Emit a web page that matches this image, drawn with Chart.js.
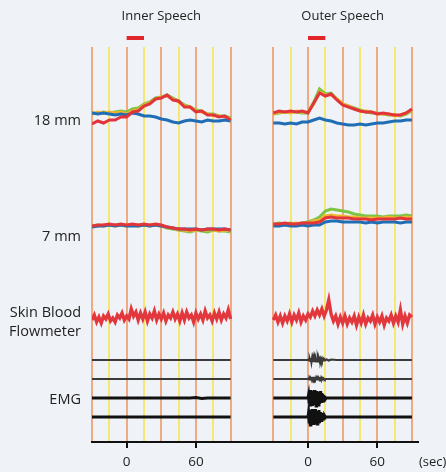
<!DOCTYPE html>
<html>
<head>
<meta charset="utf-8">
<script src="https://cdn.jsdelivr.net/npm/chart.js@4.4.1/dist/chart.umd.min.js"></script>
<style>
  html, body { margin: 0; padding: 0; background: #eff2f6; }
  #wrap { width: 446px; height: 472px; position: relative; }
</style>
</head>
<body>
<div id="wrap"><canvas id="speechChart"></canvas></div>
<script>
// time bases (sec)
const T5 = [-30,-25,-20,-15,-10,-5,0,5,10,15,20,25,30,35,40,45,50,55,60,65,70,75,80,85,90];
const T2 = [-30,-28,-26,-24,-22,-20,-18,-16,-14,-12,-10,-8,-6,-4,-2,0,2,4,6,8,10,12,14,16,18,20,
  22,24,26,28,30,32,34,36,38,40,42,44,46,48,50,52,54,56,58,60,62,64,66,68,70,72,74,76,78,80,82,84,86,88,90];
const TE = [-30,-15,-2,
  0,0.5,1,1.5,2,2.5,3,3.5,4,4.5,
  5,5.5,6,6.5,7,7.5,8,8.5,9,9.5,
  10,10.5,11,11.5,12,12.5,13,13.5,14,14.5,
  15,
  16,18,20,25,30,45,60,75,90];
const GRID_T = [-30,-15,0,15,30,45,60,75,90];
const TICK_LABELS = [0, 60];
const STIM = [0, 15];
const PANELS = ["Inner Speech", "Outer Speech"];
const ROW_LABELS = ["18 mm", "7 mm", ["Skin Blood", "Flowmeter"], "EMG"];

// 18 mm channel (a.u.)
const inner18Red    = [-7,-4,-6,-3,-3,0,0,5,6,11,13,18,19,22,17,16,10,10,5,6,2,2,0,1,-3];
const inner18Green  = [4,4,5,4,5,6,5,8,9,13,15,19,20,22,19,16,12,10,7,6,3,3,1,1,-1];
const inner18Yellow = [3,5,4,5,4,5,3,6,7,12,14,18,20,21,18,15,11,10,6,5,3,2,1,0,-2];
const inner18Blue   = [4,3,4,3,2,3,2,4,3,1,1,0,-2,-3,-5,-6,-4,-3,-4,-5,-3,-4,-4,-3,-4];
const outer18Red    = [4,6,5,6,5,6,4,14,24,21,23,17,12,10,8,6,5,5,3,4,3,2,2,4,8];
const outer18Green  = [3,4,5,5,5,4,4,15,28,23,24,18,13,11,9,7,5,4,4,3,2,2,1,3,6];
const outer18Yellow = [3,5,5,4,6,5,5,13,25,22,22,18,13,11,8,6,6,5,3,3,3,1,2,4,7];
const outer18Blue   = [-6,-6,-7,-6,-7,-5,-5,-3,-1,-3,-4,-6,-7,-8,-8,-7,-8,-7,-6,-6,-5,-4,-4,-3,-3];

// 7 mm channel (a.u.)
const inner7Red    = [0,1,1,2,1,2,1,2,1,2,1,2,1,-1,-2,-3,-3,-4,-3,-4,-3,-3,-4,-3,-4];
const inner7Green  = [0,1,0,1,1,1,0,1,1,1,0,1,0,-2,-3,-4,-5,-6,-4,-5,-6,-4,-5,-5,-6];
const inner7Yellow = [-1,0,1,1,0,1,1,1,0,1,1,1,0,-1,-2,-4,-4,-5,-4,-4,-4,-4,-5,-4,-5];
const inner7Blue   = [-1,0,0,1,0,1,0,0,0,1,0,1,0,-1,-2,-3,-3,-3,-3,-4,-3,-3,-3,-3,-4];
const outer7Red    = [2,2,3,2,2,3,3,3,4,8,9,8,8,8,7,7,7,6,7,7,7,7,8,7,7];
const outer7Green  = [2,3,2,3,2,3,4,6,9,15,17,16,15,14,12,11,10,10,10,9,10,10,10,11,10];
const outer7Yellow = [1,2,2,2,3,2,3,5,6,10,11,10,10,9,9,8,8,8,8,8,9,8,8,9,8];
const outer7Blue   = [0,0,1,0,0,1,0,1,1,4,5,5,4,4,4,4,3,4,3,4,4,4,3,4,4];

// skin blood flow (a.u.)
const innerBlood = [
  -2,3,-4,1,-5,2,-1,4,-3,0,
  -4,3,0,5,-2,2,-1,9,2,6,
  -2,5,-1,6,-3,4,0,7,-2,4,
  -1,5,-3,3,0,6,-1,4,-3,5,
  -2,6,0,3,-4,5,-1,4,-2,7,
  0,3,-3,5,-1,6,-2,4,0,8,
  -1];
const outerBlood = [
  -2,3,-4,2,-5,2,-3,4,-4,3,
  -2,5,-4,2,-2,4,1,7,2,8,
  3,9,2,8,18,4,-3,2,-6,1,
  -5,2,-6,0,-4,2,-7,1,-5,3,
  -6,0,-3,3,-6,1,-4,2,-7,0,
  -3,3,-5,2,-4,8,-6,2,-5,3,
  1];

// EMG (a.u.)
const innerEmg = [
  [0,0,0,0,0,0,0,0,0,0,0,0,0,0,0,0,0,0,0,0,0,0,0,0,0],
  [0,0,0,0,0,0,0,0,0,0,0,0,0,0,0,0,0,0,0,0,0,0,0,0,0],
  [0,0,0,0,0,0,0,0,0,0,0,0,0,0,0,0,0,0,0.5,-0.5,0,0,0,0,0],
  [0,0,0,0,0,0,0,0,0,0,0,0,0,0,0,0,0,0,0,0,0,0,0,0,0]
];
const outerEmg = [
  [0,0,0,
   0,0.5,-0.5,1,-1,2,-2,1.5,-2,2,
   -1.5,2,-2,1.5,-1.5,2,-1.5,1.5,-1,1,
   -1,1,-1,1,-0.5,0.5,-0.5,0.5,-0.5,0.5,
   0,
   0.5,-0.5,0.5,0,0,0,0,0,0],
  [0,0,0,
   0,0.5,-0.5,0.5,-0.5,0.5,-0.5,0.5,-0.5,0.5,
   -0.5,0.5,-0.5,0.5,-0.5,0.5,-0.5,0.5,-0.5,0.5,
   -0.5,0.5,-0.5,0,0.5,-0.5,0,0.5,0,-0.5,
   0,
   0,0,0,0,0,0,0,0,0],
  [0,0,0,
   0,3,-4,6,-7,8,-6,7,-8,7,
   -6,8,-7,6,-8,7,-5,6,-7,5,
   -6,7,-4,5,-5,4,-3,3,-2,2,
   -1,
   0,0,0,0,0,0,0,0,0],
  [0,0,0,
   0,4,-5,7,-8,6,-7,8,-6,7,
   -8,6,-7,8,-6,5,-7,6,-5,7,
   -6,5,-4,4,-5,3,-2,2,-1,1,
   0,
   0,0,0,0,0,0,0,0,0]
];

// layout
const SHIFT = [0, 157];               // x shift of each panel on the shared axis
const BASE = { d18: 325, d7: 216, blood: 124, emg: [82, 63, 44, 25], stim: 404 };
const LABEL_Y = [321, 205, 120, 42];
const COL = { red: "#e2353b", green: "#7dc344", yellow: "#f0b52e", blue: "#1f6db5" };

function trace(times, values, shift, base) {
  return times.map((t, i) => ({ x: t + shift, y: base + values[i] }));
}
function line(data, color, width) {
  return { data: data, borderColor: color, borderWidth: width, pointRadius: 0, tension: 0, fill: false };
}
function localT(v) {
  return Math.round(v > 120 ? v - SHIFT[1] : v);
}

const datasets = [];
SHIFT.forEach((s) => {
  datasets.push(Object.assign(line(STIM.map(t => ({ x: t + s, y: BASE.stim })), "#e0262b", 4),
    { clip: false, borderCapStyle: "butt" }));
});
// EMG
innerEmg.forEach((v, i) => datasets.push(line(trace(T5, v, SHIFT[0], BASE.emg[i]), i < 2 ? "#3a3a3a" : "#111", i < 2 ? 2.2 : 3)));
outerEmg.forEach((v, i) => datasets.push(line(trace(TE, v, SHIFT[1], BASE.emg[i]), i < 2 ? "#3a3a3a" : "#111", i < 2 ? 2.2 : 3)));
// blood flow
datasets.push(line(trace(T2, innerBlood, SHIFT[0], BASE.blood), "#e2383d", 3.4));
datasets.push(line(trace(T2, outerBlood, SHIFT[1], BASE.blood), "#e2383d", 3.4));
// NIRS channels (red first so it sits on top)
[
  [inner18Red, inner18Blue, inner18Yellow, inner18Green, 0, BASE.d18],
  [outer18Red, outer18Blue, outer18Yellow, outer18Green, 1, BASE.d18],
  [inner7Red, inner7Blue, inner7Yellow, inner7Green, 0, BASE.d7],
  [outer7Red, outer7Blue, outer7Yellow, outer7Green, 1, BASE.d7]
].forEach(([r, b, y, g, p, base]) => {
  datasets.push(line(trace(T5, r, SHIFT[p], base), COL.red, 3));
  datasets.push(line(trace(T5, b, SHIFT[p], base), COL.blue, 3));
  datasets.push(line(trace(T5, y, SHIFT[p], base), COL.yellow, 3));
  datasets.push(line(trace(T5, g, SHIFT[p], base), COL.green, 3));
});

const panelLabels = {
  id: "panelLabels",
  afterDraw(chart) {
    const ctx = chart.ctx;
    const x = chart.scales.x;
    ctx.save();
    ctx.fillStyle = "#222";
    ctx.font = "13px 'Open Sans', sans-serif";
    ctx.textAlign = "center";
    ctx.textBaseline = "middle";
    PANELS.forEach((name, i) => ctx.fillText(name, x.getPixelForValue(30 + SHIFT[i]), 16));
    ctx.textAlign = "left";
    ctx.fillText("(sec)", x.right + 1, 462);
    ctx.restore();
  }
};

Chart.defaults.font.family = "'Open Sans', sans-serif";
Chart.defaults.color = "#222";

new Chart(document.getElementById("speechChart"), {
  type: "line",
  data: { datasets: datasets },
  options: {
    responsive: true,
    maintainAspectRatio: false,
    animation: false,
    events: [],
    layout: { padding: { top: 47, right: 28, left: 0, bottom: 0 } },
    plugins: { legend: { display: false }, tooltip: { enabled: false } },
    scales: {
      x: {
        type: "linear",
        min: -30,
        max: 252.25,
        afterBuildTicks: (scale) => {
          scale.ticks = [];
          SHIFT.forEach(s => GRID_T.forEach(t => scale.ticks.push({ value: t + s })));
        },
        afterFit: (scale) => { scale.height = 30; },
        grid: {
          color: (ctx) => ((localT(ctx.tick.value) + 30) / 15) % 2 === 0 ? "rgba(240,150,100,0.8)" : "rgba(246,230,100,0.9)",
          lineWidth: 2,
          drawTicks: true,
          tickLength: 6,
          tickWidth: 2,
          tickColor: (ctx) => TICK_LABELS.includes(localT(ctx.tick.value)) ? "#111" : "rgba(0,0,0,0)"
        },
        border: { display: true, color: "#111", width: 2 },
        ticks: {
          autoSkip: false,
          maxRotation: 0,
          padding: 6,
          font: { size: 13.5 },
          callback: (value) => TICK_LABELS.includes(localT(value)) ? String(localT(value)) : ""
        }
      },
      y: {
        min: 0,
        max: 395,
        afterBuildTicks: (scale) => { scale.ticks = LABEL_Y.map(v => ({ value: v })); },
        afterFit: (scale) => { scale.width = 92; },
        grid: { display: false, drawTicks: false },
        border: { display: false },
        ticks: {
          padding: 11,
          font: { size: 14.5, lineHeight: 1.3 },
          callback: (value, index) => ROW_LABELS[index]
        }
      }
    }
  },
  plugins: [panelLabels]
});
</script>
</body>
</html>
